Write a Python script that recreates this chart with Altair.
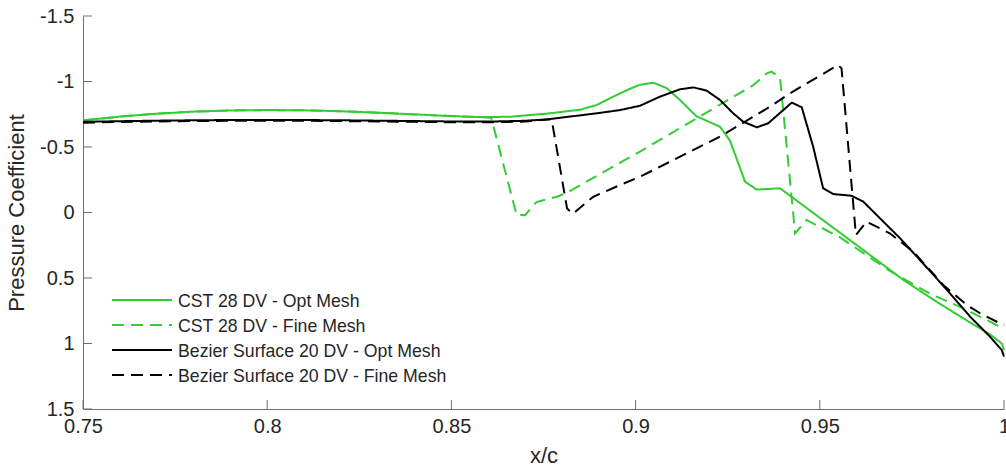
import altair as alt
import pandas as pd

# ---------------- data ----------------
cst_opt_x = [0.75, 0.76, 0.77, 0.78, 0.79, 0.80, 0.81, 0.82, 0.83, 0.84, 0.85, 0.858, 0.866,
             0.876, 0.885, 0.8894, 0.8939, 0.8985, 0.9012, 0.9048, 0.9084, 0.912, 0.9165,
             0.9229, 0.9256, 0.9297, 0.9329, 0.9392, 0.9636, 0.9727, 0.9817, 0.9908, 0.9962,
             0.9994, 1.0]
cst_opt_y = [-0.703, -0.732, -0.754, -0.770, -0.779, -0.782, -0.780, -0.773, -0.762, -0.749,
             -0.736, -0.728, -0.731, -0.755, -0.785, -0.820, -0.884, -0.945, -0.975, -0.991,
             -0.950, -0.860, -0.735, -0.655, -0.550, -0.235, -0.175, -0.185, 0.324, 0.515,
             0.681, 0.840, 0.930, 1.000, 1.050]

cst_fine_x = [0.75, 0.76, 0.77, 0.78, 0.79, 0.80, 0.81, 0.82, 0.83, 0.84, 0.85, 0.858, 0.8608,
              0.8677, 0.870, 0.8731, 0.8786, 0.8813, 0.8958, 0.9012, 0.9139, 0.932, 0.9355,
              0.9369, 0.9392, 0.9433, 0.9464, 0.9555, 0.969, 0.9799, 0.989, 0.998, 1.0]
cst_fine_y = [-0.703, -0.732, -0.754, -0.770, -0.779, -0.782, -0.780, -0.773, -0.762, -0.749,
              -0.736, -0.728, -0.724, 0.019, 0.020, -0.080, -0.120, -0.150, -0.380, -0.465,
              -0.675, -0.973, -1.060, -1.075, -1.030, 0.159, 0.057, 0.190, 0.445, 0.620,
              0.732, 0.859, 0.897]

bez_opt_x = [0.75, 0.76, 0.77, 0.78, 0.79, 0.80, 0.81, 0.82, 0.83, 0.84, 0.85, 0.86, 0.87,
             0.876, 0.8894, 0.8958, 0.9012, 0.9066, 0.912, 0.9157, 0.9193, 0.9229, 0.9265,
             0.9292, 0.9329, 0.936, 0.9424, 0.9451, 0.9482, 0.9509, 0.9536, 0.9586, 0.9618,
             0.9718, 0.9817, 0.9848, 0.9908, 0.9962, 0.9994, 1.0]
bez_opt_y = [-0.692, -0.697, -0.701, -0.704, -0.706, -0.707, -0.706, -0.704, -0.701, -0.698,
             -0.695, -0.694, -0.700, -0.711, -0.757, -0.782, -0.815, -0.884, -0.940, -0.955,
             -0.930, -0.859, -0.757, -0.693, -0.650, -0.681, -0.839, -0.803, -0.502, -0.185,
             -0.141, -0.128, -0.083, 0.197, 0.502, 0.600, 0.795, 0.948, 1.050, 1.100]

bez_fine_x = [0.75, 0.76, 0.77, 0.78, 0.79, 0.80, 0.81, 0.82, 0.83, 0.84, 0.85, 0.86, 0.87,
              0.8772, 0.8814, 0.8830, 0.8885, 0.8958, 0.9012, 0.9229, 0.9365, 0.9419, 0.955,
              0.9559, 0.9598, 0.9627, 0.969, 0.9754, 0.9835, 0.9899, 0.9935, 0.9989, 1.0]
bez_fine_y = [-0.686, -0.691, -0.695, -0.698, -0.700, -0.701, -0.700, -0.698, -0.695, -0.692,
              -0.689, -0.688, -0.694, -0.712, -0.030, 0.010, -0.120, -0.210, -0.273, -0.579,
              -0.808, -0.910, -1.126, -1.100, 0.172, 0.070, 0.159, 0.299, 0.553, 0.706,
              0.769, 0.846, 0.859]

series_names = ["CST 28 DV - Opt Mesh", "CST 28 DV - Fine Mesh",
                "Bezier Surface 20 DV - Opt Mesh", "Bezier Surface 20 DV - Fine Mesh"]
x_ticks = [0.75, 0.8, 0.85, 0.9, 0.95, 1.0]
y_ticks = [-1.5, -1, -0.5, 0, 0.5, 1, 1.5]

# ---------------- styling ----------------
GREEN = "#33CC33"
BLACK = "#000000"
colors = [GREEN, GREEN, BLACK, BLACK]
dashes = [[1, 0], [12, 7], [1, 0], [12, 7]]
AXIS = "#6e6e6e"
TEXT = "#262626"
FONT = "Liberation Sans"

W, H = 921, 393
LEG_Y0, LEG_DY = 284, 25  # legend rows, pixels from plot top

rows = []
for name, xs, ys in zip(series_names,
                        [cst_opt_x, cst_fine_x, bez_opt_x, bez_fine_x],
                        [cst_opt_y, cst_fine_y, bez_opt_y, bez_fine_y]):
    for i, (xv, yv) in enumerate(zip(xs, ys)):
        rows.append({"series": name, "xc": xv, "cp": yv, "i": i})
df = pd.DataFrame(rows)

xscale = alt.Scale(domain=[0.75, 1.0], nice=False, zero=False)
yscale = alt.Scale(domain=[-1.5, 1.5], nice=False, zero=False, reverse=True)

x_axis = alt.Axis(values=x_ticks, title="x/c")
y_axis = alt.Axis(values=y_ticks, title="Pressure Coefficient")

layers = []
for k, (name, col, dash) in enumerate(zip(series_names, colors, dashes)):
    layers.append(
        alt.Chart(df).transform_filter(alt.datum.series == name)
        .mark_line(color=col, strokeDash=dash, strokeWidth=2)
        .encode(
            x=alt.X("xc:Q", scale=xscale, axis=x_axis),
            y=alt.Y("cp:Q", scale=yscale, axis=y_axis),
            order="i:Q")
    )

# inward tick marks
ytick = alt.Chart(pd.DataFrame({"v": y_ticks})).mark_rule(color=AXIS, strokeWidth=1).encode(
    y=alt.Y("v:Q", scale=yscale, axis=y_axis), x=alt.value(0), x2=alt.value(9))
xtick = alt.Chart(pd.DataFrame({"v": x_ticks})).mark_rule(color=AXIS, strokeWidth=1).encode(
    x=alt.X("v:Q", scale=xscale, axis=x_axis), y=alt.value(H), y2=alt.value(H - 9))

# legend (inside, lower left)
leg_df = pd.DataFrame({"series": series_names})
leg_layers = []
for k, (name, col, dash) in enumerate(zip(series_names, colors, dashes)):
    yy = LEG_Y0 + k * LEG_DY
    base = alt.Chart(leg_df).transform_filter(alt.datum.series == name)
    leg_layers.append(base.mark_rule(color=col, strokeDash=dash, strokeWidth=2)
                      .encode(y=alt.value(yy), x=alt.value(29), x2=alt.value(89)))
    leg_layers.append(base.mark_text(align="left", baseline="middle", font=FONT,
                                     fontSize=17.7, color=TEXT, dy=2)
                      .encode(y=alt.value(yy), x=alt.value(95), text="series:N"))

chart = alt.layer(*layers, ytick, xtick, *leg_layers).properties(
    width=W, height=H,
    autosize=alt.AutoSizeParams(type="none"),
    padding={"left": 83, "top": 16, "right": 2, "bottom": 65},
    background="white",
).configure_view(stroke=None).configure_axis(
    labelExpr="'' + datum.value", ticks=False, grid=False,
    domainColor=AXIS, domainWidth=1, labelFont=FONT, labelFontSize=20,
    labelColor=TEXT, labelFlush=False, labelOverlap=False,
    titleFont=FONT, titleFontSize=22, titleFontWeight="normal", titleColor=TEXT,
).configure_axisX(labelPadding=7, titlePadding=9).configure_axisY(
    labelPadding=9, titlePadding=11)

chart.save("out.html", embed_options={"renderer": "svg", "actions": False})
